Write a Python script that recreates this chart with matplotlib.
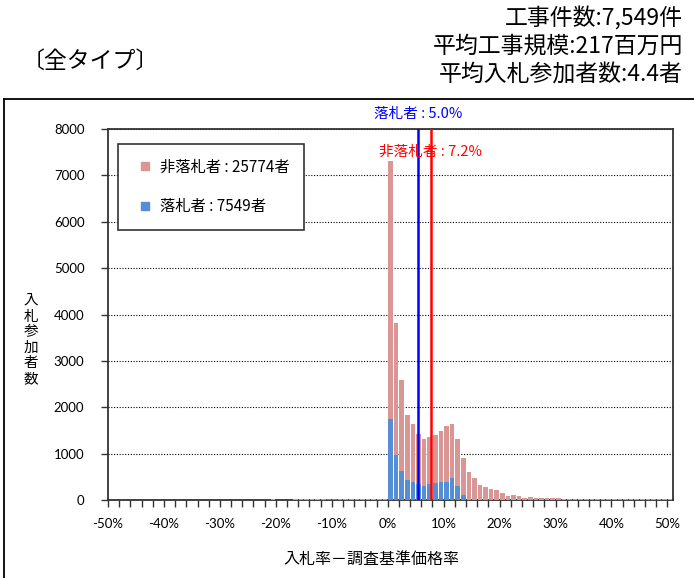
import matplotlib.pyplot as plt
import numpy as np
from matplotlib.lines import Line2D
from matplotlib.ticker import FuncFormatter


plt.rcParams['font.family'] = ['Noto Sans CJK JP', 'DejaVu Sans']

# 1% bins of (bid rate - survey base price rate), -50% .. 50%
rate_bins = list(range(-50, 51))

non_winners = [
    0, 0, 0, 0, 0, 0, 0, 0, 0, 0,                 # -50 .. -41
    0, 0, 0, 0, 0, 0, 0, 0, 0, 0,                 # -40 .. -31
    0, 0, 0, 0, 0, 0, 0, 0, 0, 15,                # -30 .. -21
    0, 0, 0, 18, 15, 15, 18, 15, 15, 5,           # -20 .. -11
    5, 18, 15, 15, 18, 15, 15, 18, 15, 15,        # -10 .. -1
    5570, 2852, 1959, 1395, 1246, 1069, 1004, 1004, 1027, 1096,  # 0 .. 9
    1196, 1169, 1004, 789, 595, 466, 323, 273, 229, 208,         # 10 .. 19
    143, 93, 115, 86, 43, 65, 43, 43, 43, 43,     # 20 .. 29
    43, 21, 15, 15, 15, 15, 15, 15, 15, 15,       # 30 .. 39
    15, 15, 15, 15, 15, 15, 15, 15, 15, 15,       # 40 .. 49
    15,                                           # 50
]

winners = [
    0, 0, 0, 0, 0, 0, 0, 0, 0, 0,
    0, 0, 0, 0, 0, 0, 0, 0, 0, 0,
    0, 0, 0, 0, 0, 0, 0, 0, 0, 0,
    0, 0, 0, 0, 0, 0, 0, 0, 0, 20,
    20, 0, 0, 0, 0, 0, 0, 0, 0, 0,
    1750, 968, 631, 430, 394, 351, 301, 351, 373, 394,
    394, 466, 301, 107, 0, 0, 0, 0, 0, 0,
    0, 0, 0, 0, 0, 0, 0, 0, 0, 0,
    0, 0, 0, 0, 0, 0, 0, 0, 0, 0,
    0, 0, 0, 0, 0, 0, 0, 0, 0, 0,
    0,
]

winner_rate = 5.0
non_winner_rate = 7.2
winner_total = 7549
non_winner_total = 25774

header_lines = ['工事件数:7,549件', '平均工事規模:217百万円', '平均入札参加者数:4.4者']
panel_title = '〔全タイプ〕'

pink = '#DA9694'
blue = '#558ED5'

fig = plt.figure(figsize=(6.94, 5.78), dpi=100)
ax = fig.add_axes([108 / 694, 1 - 500 / 578, 565 / 694, 371 / 578])

# category axis: each bar sits in the middle of its 1% slot
x = np.array(rate_bins) + 0.5
ax.bar(x, winners, width=0.82, color=blue, linewidth=0, zorder=3)
ax.bar(x, non_winners, width=0.82, bottom=winners, color=pink, linewidth=0, zorder=3)

ax.axvline(winner_rate + 0.5, color='#0000FF', lw=1.8, zorder=4)
ax.axvline(non_winner_rate + 0.5, color='#FF0000', lw=1.8, zorder=4)
ax.text(winner_rate + 0.5, 1.04, f'落札者 : {winner_rate:.1f}%', color='#0000FF',
        fontsize=10.5, ha='center', va='center', transform=ax.get_xaxis_transform())
ax.text(non_winner_rate + 0.5, 0.938, f'非落札者 : {non_winner_rate:.1f}%', color='#FF0000',
        fontsize=10.5, ha='center', va='center', transform=ax.get_xaxis_transform(),
        zorder=5)

ax.set_xlim(-50, 51)
ax.set_ylim(0, 8000)
ax.set_xticks(np.arange(-50, 51, 10))
ax.set_xticks(np.arange(-50, 51, 2), minor=True)
ax.xaxis.set_major_formatter(FuncFormatter(lambda v, _p: f'{v:.0f}%'))
ax.set_yticks(np.arange(0, 8001, 1000))
ax.yaxis.grid(True, color='black', linestyle=(0, (1, 1.5)), linewidth=0.8, zorder=0)
ax.set_axisbelow(True)

ax.tick_params(axis='both', which='both', direction='out', length=5, width=1,
               color='#333333', labelsize=9.5, labelfontfamily='Lato')
ax.tick_params(axis='y', pad=12)
ax.tick_params(axis='x', pad=8)
for spine in ax.spines.values():
    spine.set_color('#333333')
    spine.set_linewidth(1.3)

ax.set_xlabel('入札率－調査基準価格率', fontsize=11.5)
ax.xaxis.set_label_coords(0.467, -0.138)
fig.text(31 / 694, 1 - 340 / 578, '\n'.join('入札参加者数'), fontsize=10.5,
         ha='center', va='center', linespacing=1.15)

handles = [
    Line2D([], [], marker='s', linestyle='none', markersize=6, color=pink),
    Line2D([], [], marker='s', linestyle='none', markersize=6, color=blue),
]
labels = [f'非落札者 : {non_winner_total}者', f'落札者 : {winner_total}者']
legend = ax.legend(handles, labels, loc='upper left', bbox_to_anchor=(0.018, 0.96),
                   fontsize=11, frameon=True, fancybox=False, framealpha=1,
                   edgecolor='#333333', borderpad=0.95, labelspacing=1.5,
                   handlelength=1.6, handletextpad=0.2, borderaxespad=0)
legend.get_frame().set_linewidth(1.2)

# header text and outer frame
fig.text(22 / 694, 1 - 61 / 578, panel_title, fontsize=16.5, ha='left', va='center')
for i, line in enumerate(header_lines):
    fig.text(683 / 694, 1 - (18 + 28 * i) / 578, line, fontsize=16.5,
             ha='right', va='center')

frame_top = 1 - 99 / 578
fig.add_artist(Line2D([4 / 694, 4 / 694], [0, frame_top], transform=fig.transFigure,
                      color='black', lw=1.3))
fig.add_artist(Line2D([4 / 694, 1], [frame_top, frame_top], transform=fig.transFigure,
                      color='black', lw=1.3))

fig.savefig('out.png', dpi=100)
